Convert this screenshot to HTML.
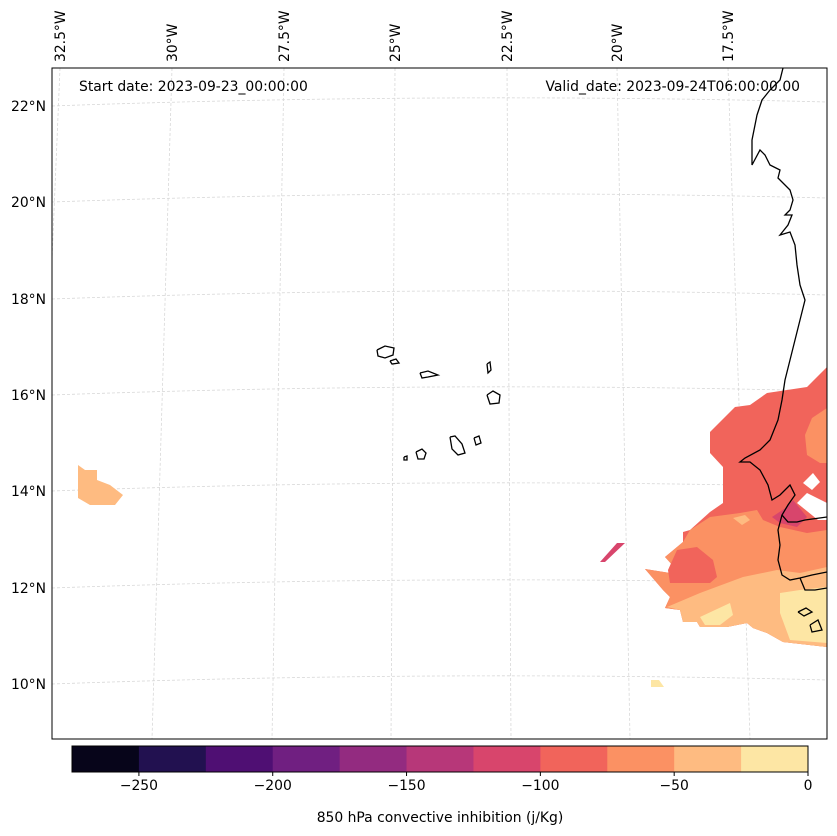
<!DOCTYPE html>
<html><head><meta charset="utf-8"><style>
html,body{margin:0;padding:0;background:#fff;}
svg{display:block;font-family:"DejaVu Sans","Liberation Sans",sans-serif;}
</style></head><body>
<svg id="chart" width="837" height="836" viewBox="0 0 837 836">
<defs><clipPath id="mapclip"><rect x="52" y="68" width="775" height="671"/></clipPath></defs>
<g id="grid" clip-path="url(#mapclip)" stroke="#d8d8d8" stroke-width="0.8" stroke-dasharray="3,2" fill="none"></g>
<g clip-path="url(#mapclip)">
  <polygon fill="#f1645b" points="827,367 807,387 767,393 750,405 735,407 710,432 710,453 723,467 723,503 710,512 690,530 683,532 683,542 665,557 675,568 670,573 645,569 663,590 670,597 665,608 680,610 683,622 697,622 700,627 727,627 747,623 753,628 767,633 783,642 827,647"/>
  <polygon fill="#fb9163" points="690,530 710,517 740,513 757,510 763,520 780,527 807,533 827,530 827,647 783,642 767,633 753,628 747,623 727,627 700,627 697,622 683,622 680,610 665,608 670,597 663,590 645,569 670,573 675,568 665,557 683,542"/>
  <polygon fill="#f1645b" points="677,550 697,547 713,560 717,577 710,583 670,583 668,570"/>
  <polygon fill="#fb9163" points="827,408 812,418 805,435 807,455 820,463 827,463"/>
  <polygon fill="#febb81" points="667,607 700,593 743,577 777,570 800,573 827,567 827,647 783,642 767,633 753,628 747,623 727,627 700,627 697,622 683,622 680,610"/>
  <polygon fill="#fde6a4" points="780,593 800,590 827,587 827,643 790,640 780,613"/>
  <polygon fill="#fde6a4" points="700,617 730,603 733,615 720,625 705,625"/>
  <polygon fill="#febb81" points="733,518 745,515 750,520 742,525"/>
  <polygon fill="#d8456c" points="772,517 787,507 793,500 807,517 797,527 780,523"/>
  <polygon fill="#d8456c" points="600,562 617,543 625,543 605,562"/>
  <polygon fill="#fff" points="803,483 813,473 820,482 812,490"/>
  <polygon fill="#fff" points="797,503 807,493 827,503 827,520 818,520"/>
  <polygon fill="#febb81" points="78,465 85,470 97,470 97,480 110,485 123,495 115,505 90,505 78,498"/>
  <polygon fill="#fde6a4" points="651,680 659,680 664,687 651,687"/>
</g>
<g clip-path="url(#mapclip)" fill="none" stroke="#000" stroke-width="1.3">
  <polyline points="783,68 780,80 770,90 762,100 757,115 752,140 752,165 760,150 765,155 770,165 780,170 778,178 790,190 793,200 790,210 785,215 792,215 788,225 780,235 790,232 795,245 797,265 800,285 805,300 800,320 795,340 790,360 785,380 782,400 778,420 770,440 760,450 745,458 740,462 750,462 760,470 768,485 772,500 780,495 790,485 795,495 788,505 782,515 788,522 797,522 805,520 827,517"/>
  <polyline points="782,515 778,530 780,545 778,560 782,575 790,580 800,578 812,575 827,572"/>
  <polyline points="800,578 805,590 815,590 827,588"/>
  <polyline points="798,612 806,608 812,612 804,616 798,612"/>
  <polyline points="810,625 818,620 822,630 812,632 810,625"/>
  <polyline points="377,350 385,346 394,348 393,355 385,358 378,356 377,350"/>
  <polyline points="390,361 396,359 399,363 392,364 390,361"/>
  <polyline points="420,373 428,371 438,375 428,377 422,378 420,373"/>
  <polyline points="487,364 490,362 491,370 488,373 487,364"/>
  <polyline points="487,395 493,391 500,395 499,403 490,404 487,395"/>
  <polyline points="404,457 407,456 407,460 404,460 404,457"/>
  <polyline points="416,452 422,449 426,453 424,459 418,459 416,452"/>
  <polyline points="450,437 455,436 462,444 465,453 458,455 452,449 450,437"/>
  <polyline points="474,438 479,436 481,443 476,445 474,438"/>
</g>
<rect x="52" y="68" width="775" height="671" fill="none" stroke="#000" stroke-width="1"/>
<g id="lonlabels" font-size="13.9" fill="#000"></g>
<g id="latlabels" font-size="13.9" fill="#000" text-anchor="end"></g>
<text x="79" y="91" font-size="13.9">Start date: 2023-09-23_00:00:00</text>
<text x="800" y="91" font-size="13.9" text-anchor="end">Valid_date: 2023-09-24T06:00:00.00</text>
<g id="colorbar"></g>
<text x="440" y="822" font-size="13.9" text-anchor="middle">850 hPa convective inhibition (j/Kg)</text>
</svg>
<script>
const levels = [-275,-250,-225,-200,-175,-150,-125,-100,-75,-50,-25,0];
const binColors = ["#07051a","#221150","#4f0f73","#701f81","#932b80","#b73779","#d8456c","#f1645b","#fb9163","#febb81","#fde6a4"];
const cbTicks = [-250,-200,-150,-100,-50,0];
const lonLabels = ["32.5°W","30°W","27.5°W","25°W","22.5°W","20°W","17.5°W"];
const latLabels = ["22°N","20°N","18°N","16°N","14°N","12°N","10°N"];
const NS="http://www.w3.org/2000/svg";
function mk(t,a,p){const e=document.createElementNS(NS,t);for(const k in a)e.setAttribute(k,a[k]);p.appendChild(e);return e;}
const lonTop=[60,172,284,395,507,617,728], lonBot=[32,152,272,391,511,630,750];
const latY=[106,202,299,395,491,588,684];
const grid=document.getElementById('grid');
lonTop.forEach((x,i)=>{const l=mk('line',{x1:x,y1:68,x2:lonBot[i],y2:739},grid);

});
latY.forEach(y=>{const p=mk('path',{d:`M52,${y} Q440,${y-14} 827,${y-4}`},grid);

});
const lg=document.getElementById('lonlabels');
lonLabels.forEach((s,i)=>{const t=mk('text',{transform:`translate(${lonTop[i]+5},62) rotate(-90)`},lg);t.textContent=s;

});
const la=document.getElementById('latlabels');
latLabels.forEach((s,i)=>{const t=mk('text',{x:46,y:latY[i]+5},la);t.textContent=s;

});
const cb=document.getElementById('colorbar');
const cx0=72,cx1=808,cy=746,ch=26;
const xs=v=>cx0+(v-levels[0])/(levels[levels.length-1]-levels[0])*(cx1-cx0);
binColors.forEach((c,i)=>{const r=mk('rect',{x:xs(levels[i]),y:cy,width:xs(levels[i+1])-xs(levels[i])+0.5,height:ch,fill:c},cb);

});
const fr=mk('rect',{x:cx0,y:cy,width:cx1-cx0,height:ch,fill:'none',stroke:'#000','stroke-width':1},cb);


cbTicks.forEach(v=>{const l=mk('line',{x1:xs(v),y1:cy+ch,x2:xs(v),y2:cy+ch+4,stroke:'#000'},cb);


const t=mk('text',{x:xs(v),y:cy+ch+18,'font-size':13.9,'text-anchor':'middle'},cb);t.textContent=v<0?'\u2212'+Math.abs(v):String(v);

});
</script>
</body></html>
